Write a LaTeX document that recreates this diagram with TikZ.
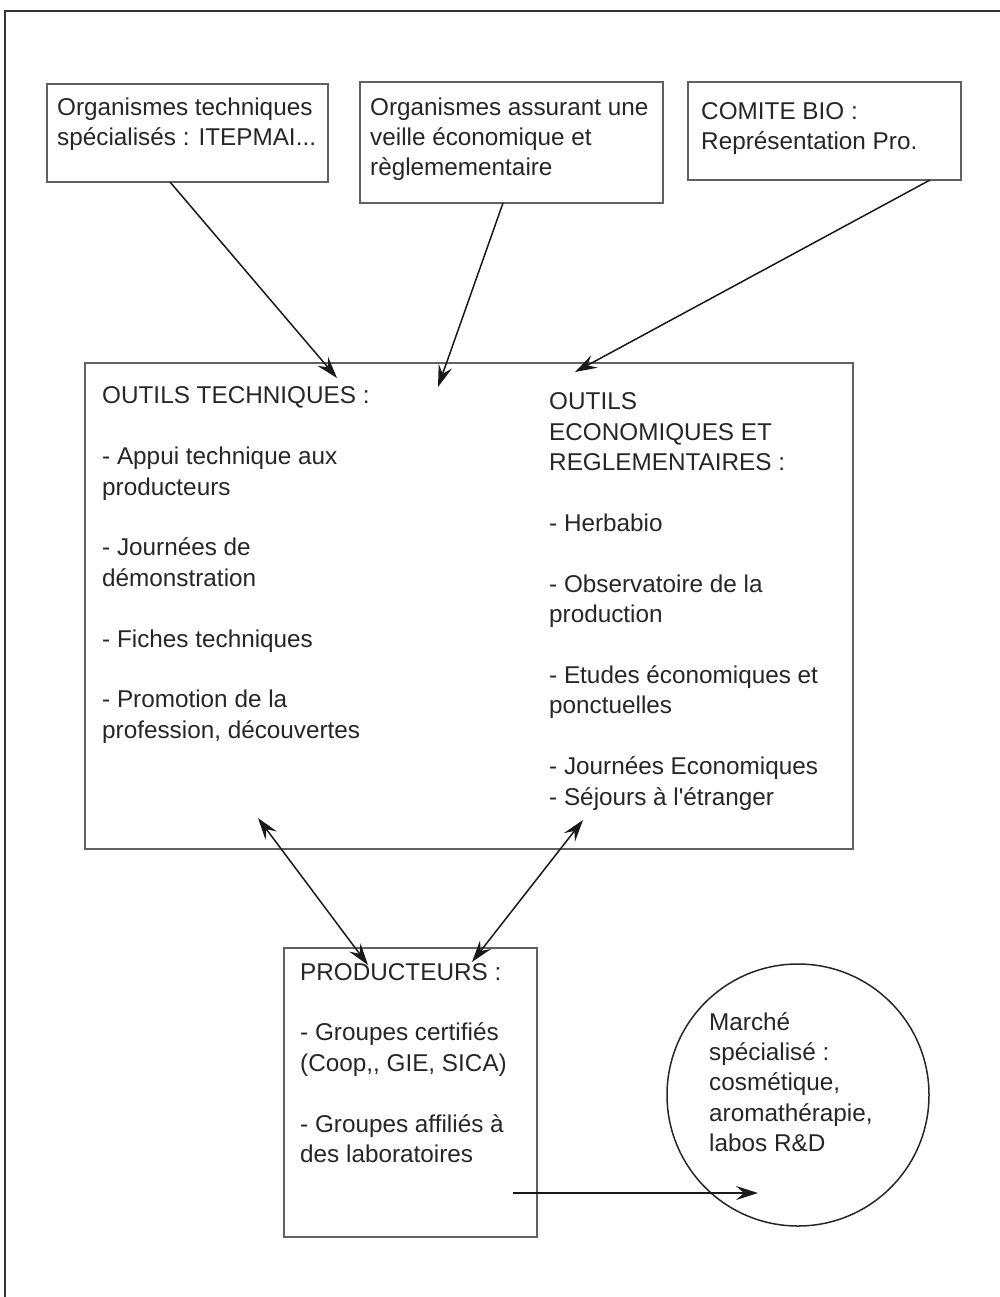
\documentclass[tikz,border=0pt]{standalone}
\usepackage{fontspec}
\setmainfont{Liberation Sans}[Ligatures=TeXOff]
\usetikzlibrary{arrows.meta,calc}
\begin{document}
\begin{tikzpicture}[x=1pt,y=-1pt,
  boxnode/.style={draw=black!62, line width=2pt, inner sep=0pt, outer sep=0pt, anchor=north west},
  txt/.style={anchor=north west, inner sep=0pt, align=left,
    font=\fontsize{24.3}{30.4}\selectfont, text=black!85},
  conn/.style={line width=1.5pt, draw=black!90,
    -{Stealth[length=22pt,width=14pt,inset=8pt]}},
  dconn/.style={line width=1.5pt, draw=black!90,
    {Stealth[length=22pt,width=14pt,inset=8pt]}-{Stealth[length=22pt,width=14pt,inset=8pt]}}]
\useasboundingbox (0,0) rectangle (1000,1297);
% outer frame (partly visible)
\draw[line width=2pt, black!80] (4.5,1300) -- (4.5,11) -- (1003,11);

% boxes
\node[boxnode, minimum width=281pt, minimum height=98pt] (b1) at (47,84) {};
\node[boxnode, minimum width=303pt, minimum height=121pt] (b2) at (360,82) {};
\node[boxnode, minimum width=273pt, minimum height=98pt] (b3) at (688,82) {};
\node[boxnode, minimum width=768pt, minimum height=486pt] (big) at (85,363) {};
\node[boxnode, minimum width=253pt, minimum height=289pt] (prod) at (284,948) {};
\node[draw=black!85, line width=1.5pt, circle, minimum size=262pt, inner sep=0pt] (mk) at (798,1095) {};

% texts
\node[txt] (t1) at (57,93.7) {\strut Organismes techniques\\spécialisés : ITEPMAI...};
\node[txt] (t2) at (370,93.7) {\strut Organismes assurant une\\veille économique et\\règlemementaire};
\node[txt] (t3) at (701,97.7) {\strut COMITE BIO :\\Représentation Pro.};
\node[txt] (tl) at (102,382.5) {\strut OUTILS TECHNIQUES :\\[30.4pt]
- Appui technique aux\\producteurs\\[30.4pt]
- Journées de\\démonstration\\[30.4pt]
- Fiches techniques\\[30.4pt]
- Promotion de la\\profession, découvertes};
\node[txt] (tr) at (549,388.5) {\strut OUTILS\\ECONOMIQUES ET\\REGLEMENTAIRES :\\[30.4pt]
- Herbabio\\[30.4pt]
- Observatoire de la\\production\\[30.4pt]
- Etudes économiques et\\ponctuelles\\[30.4pt]
- Journées Economiques\\- Séjours à l'étranger};
\node[txt] (tp) at (300,958.7) {\strut PRODUCTEURS :\\[30.4pt]
- Groupes certifiés\\(Coop,, GIE, SICA)\\[30.4pt]
- Groupes affiliés à\\des laboratoires};
\node[txt] (tm) at (709,1008.7) {\strut Marché\\spécialisé :\\cosmétique,\\aromathérapie,\\labos R\&D};

% connectors
\draw[conn] ([xshift=123pt]b1.south west) -- ([xshift=252pt,yshift=-15pt]big.north west);
\draw[conn] ([xshift=143pt]b2.south west) -- ([xshift=353pt,yshift=-24pt]big.north west);
\draw[conn] ([xshift=-31pt]b3.south east) -- ([xshift=490pt,yshift=-9pt]big.north west);
\draw[dconn] ([xshift=173pt,yshift=31pt]big.south west) -- ([xshift=84pt,yshift=-17pt]prod.north west);
\draw[dconn] ([xshift=498pt,yshift=29pt]big.south west) -- ([xshift=188pt,yshift=-14pt]prod.north west);
\coordinate (pstart) at ([xshift=-24pt,yshift=44pt]prod.south east);
\draw[conn] (pstart) -- ([xshift=-40pt]mk.center |- pstart);
\end{tikzpicture}
\end{document}
